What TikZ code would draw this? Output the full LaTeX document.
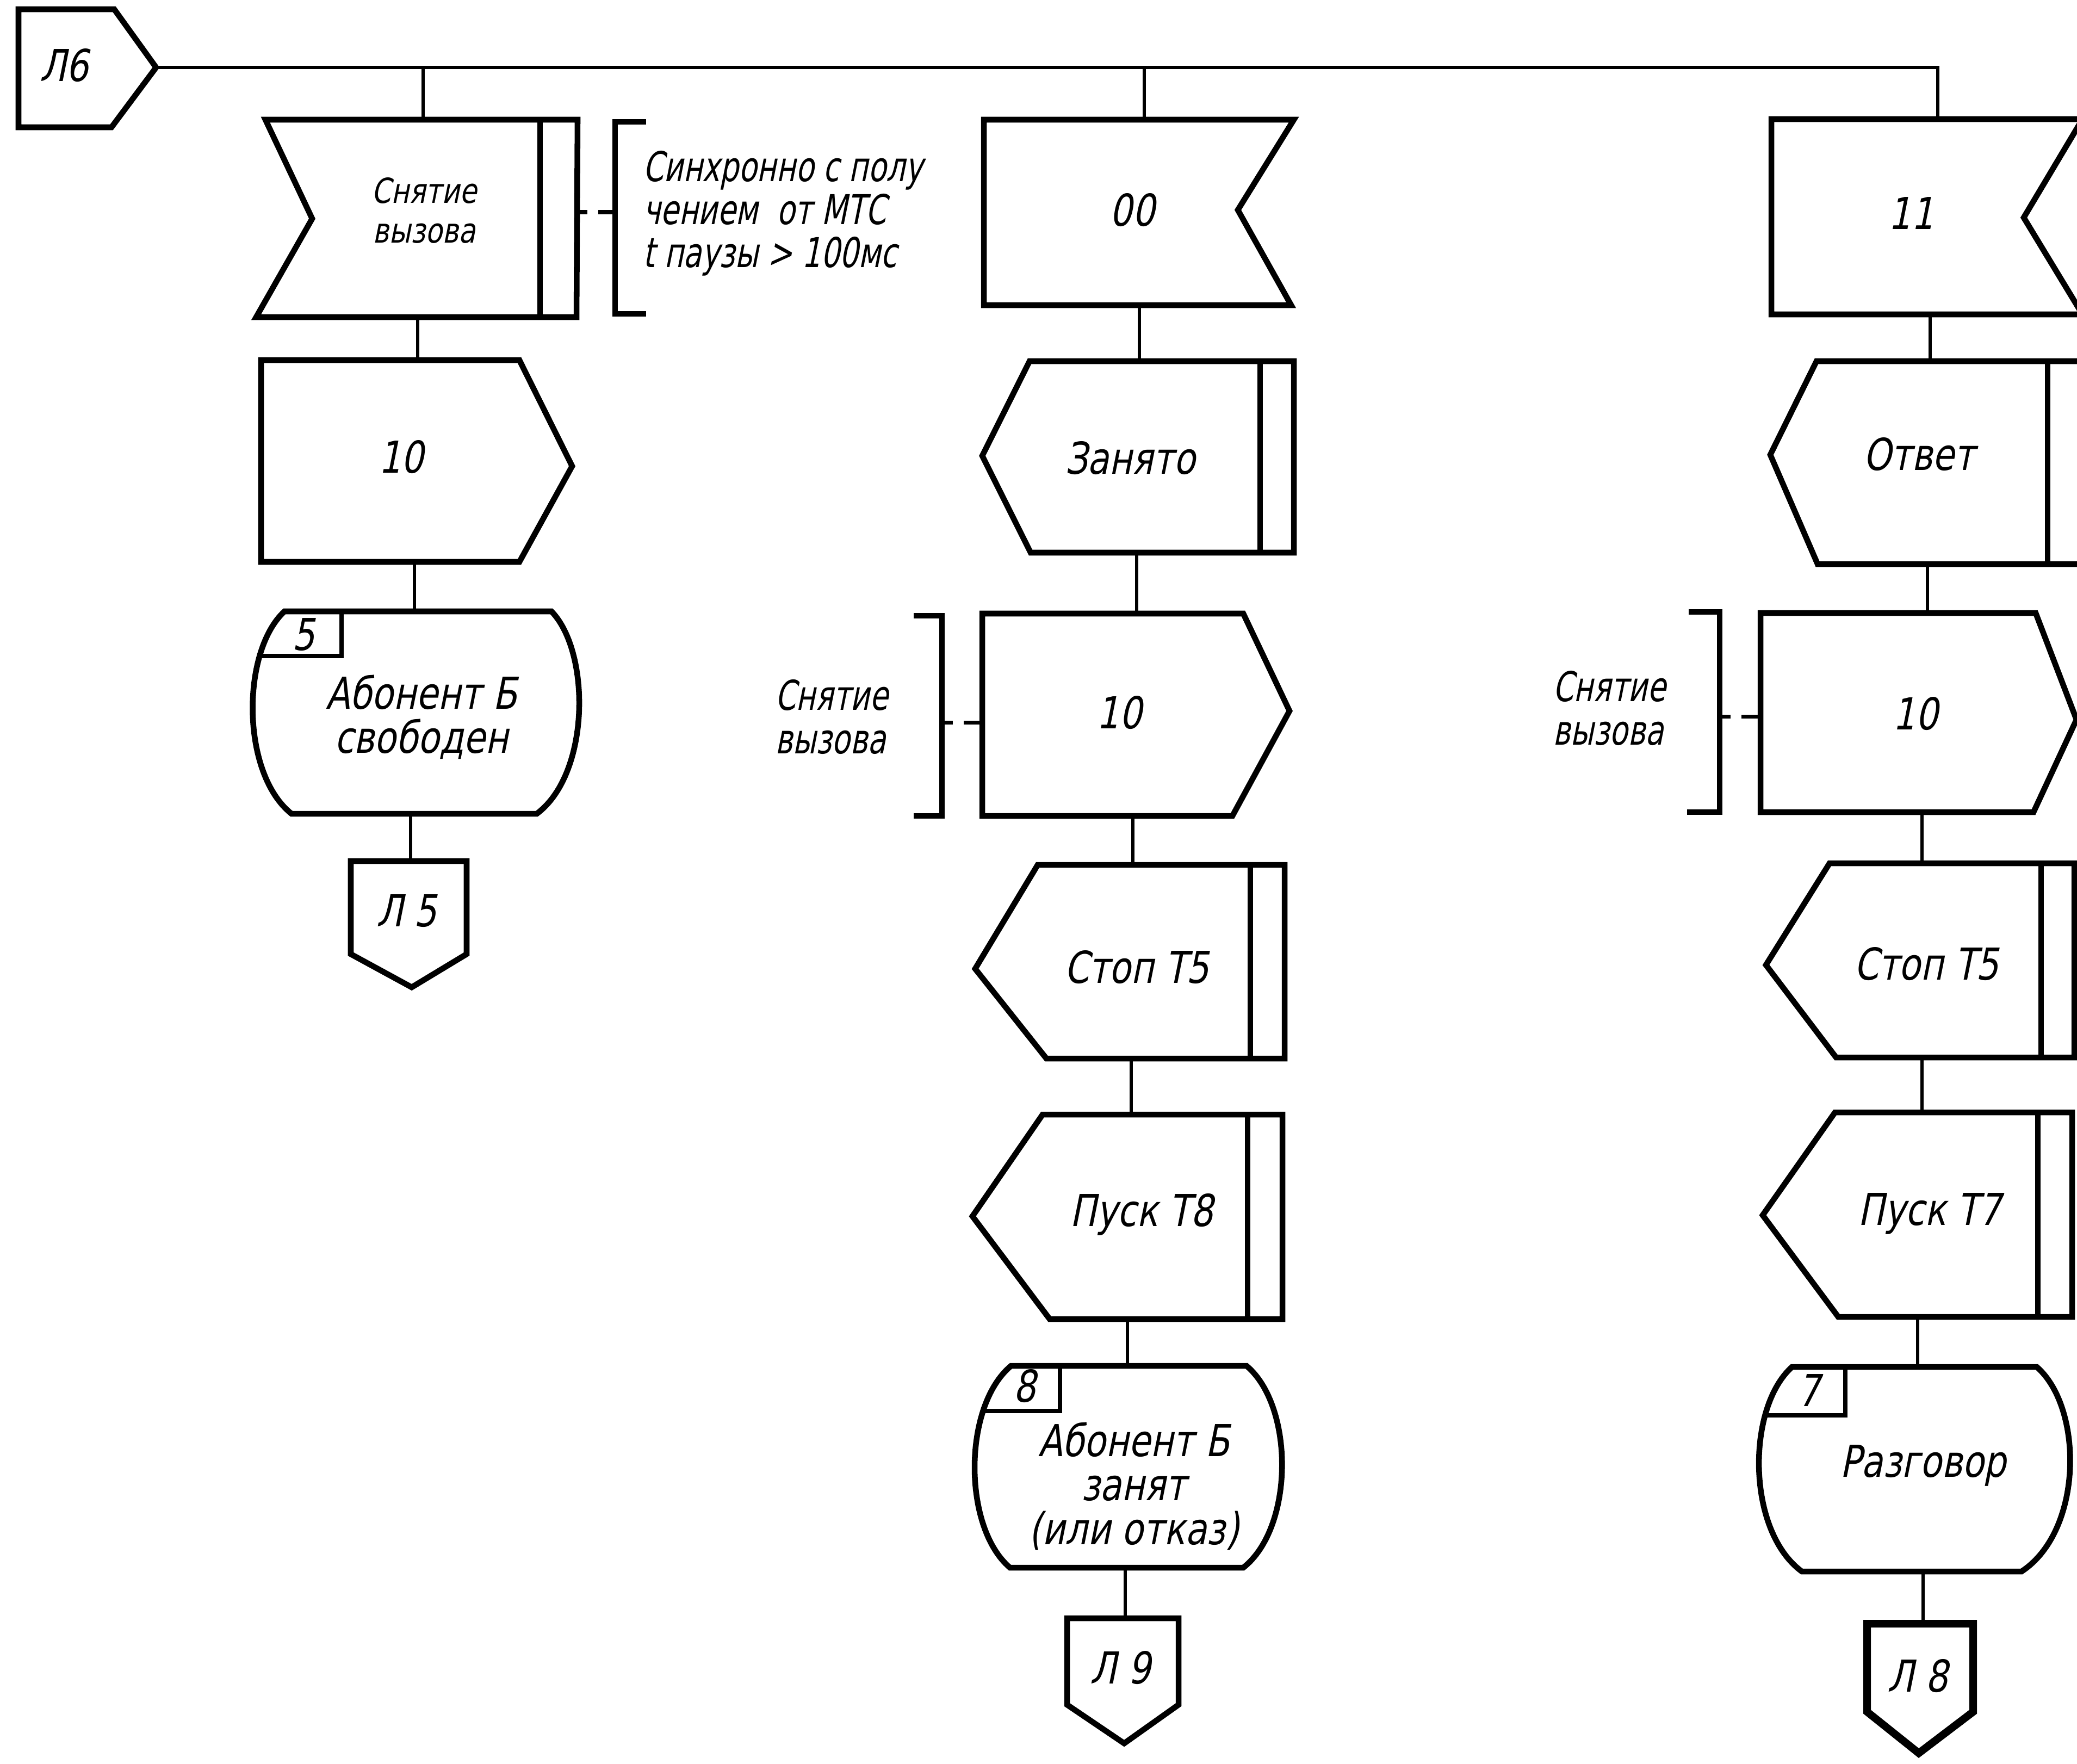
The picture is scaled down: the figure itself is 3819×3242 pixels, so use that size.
\documentclass[tikz,border=0pt]{standalone}
\usepackage{fontspec}
\newfontfamily\gost[FakeStretch=0.8,FakeSlant=0.2]{DejaVu Sans}
\newfontfamily\gostn[FakeStretch=0.72,FakeSlant=0.2]{DejaVu Sans}
\begin{document}
\begin{tikzpicture}[x=0.01cm,y=-0.01cm,
  shp/.style={line width=3pt,line join=miter},
  thk/.style={line width=4pt,line join=miter},
  con/.style={line width=1.8pt},
  brk/.style={line width=3pt},
  dsh/.style={line width=2pt,dash pattern=on 0.2cm off 0.2cm on 0.3cm off 0.2cm},
  lbl/.style={font=\gost\fontsize{23}{23}\selectfont,align=center,inner sep=0pt},
  smlbl/.style={font=\gost\fontsize{18}{21}\selectfont,align=center,inner sep=0pt},
  cmt/.style={font=\gostn\fontsize{21.5}{22.5}\selectfont,align=left,inner sep=0pt,anchor=west}]
\useasboundingbox (0,0) rectangle (3819,3242);

% ---------- L6 and main line ----------
\draw[shp] (34,17) -- (210,17) -- (287,124) -- (205,234) -- (34,234) -- cycle;
\node[lbl] (L6) at (118,120) {Л6};
\coordinate (L6p) at (287,124);
\coordinate (j1) at (778,124);
\coordinate (j2) at (2104,124);
\coordinate (j3) at (3563,124);

% ---------- column 1 ----------
\draw[shp] (488,220) -- (1062,220) -- (1060,583) -- (471,583) -- (574,402) -- cycle;
\draw[shp] (993,220) -- (993,583);
\node[smlbl] (a1) at (780,387) {Снятие\\вызова};
\coordinate (a1t) at (778,220);
\coordinate (a1b) at (768,583);
\coordinate (a1r) at (1060,390);

\draw[brk] (1188,224) -- (1131,224) -- (1131,577) -- (1188,577);
\coordinate (k1) at (1131,390);
\node[cmt] (ka) at (1182,392) {Синхронно с полу\\чением \ от МТС\\t паузы > 100мс};

\draw[shp] (480,662) -- (955,662) -- (1052,857) -- (955,1033) -- (480,1033) -- cycle;
\node[lbl] (a2) at (738,840) {10};
\coordinate (a2t) at (768,662);
\coordinate (a2b) at (762,1033);

\draw[shp] (523,1124) -- (1014,1124) .. controls (1086,1198) and (1086,1422) .. (987,1496)
  -- (536,1496) .. controls (443,1422) and (443,1198) .. (523,1124) -- cycle;
\begin{scope}
  \clip (523,1124) -- (1014,1124) .. controls (1086,1198) and (1086,1422) .. (987,1496)
  -- (536,1496) .. controls (443,1422) and (443,1198) .. (523,1124) -- cycle;
  \draw[line width=2.2pt] (400,1206) -- (628,1206) -- (628,1100);
\end{scope}
\node[lbl] (a3n) at (558,1167) {5};
\node[lbl] (a3) at (775,1318) {Абонент Б\\свободен};
\coordinate (a3t) at (762,1124);
\coordinate (a3b) at (755,1496);

\draw[shp] (645,1583) -- (858,1583) -- (858,1754) -- (757,1815) -- (645,1754) -- cycle;
\node[lbl] (L5) at (748,1675) {Л 5};
\coordinate (L5t) at (755,1583);

% ---------- column 2 ----------
\draw[shp] (1809,220) -- (2379,220) -- (2276,386) -- (2374,561) -- (1809,561) -- cycle;
\node[lbl] (b1) at (2082,386) {00};
\coordinate (b1t) at (2104,220);
\coordinate (b1b) at (2095,561);

\draw[shp] (1893,664) -- (2379,664) -- (2379,1016) -- (1895,1016) -- (1806,838) -- cycle;
\draw[shp] (2317,664) -- (2317,1016);
\node[lbl] (b2) at (2078,842) {Занято};
\coordinate (b2t) at (2095,664);
\coordinate (b2b) at (2090,1016);

\draw[shp] (1806,1128) -- (2286,1128) -- (2371,1307) -- (2266,1500) -- (1806,1500) -- cycle;
\node[lbl] (b3) at (2058,1310) {10};
\coordinate (b3t) at (2090,1128);
\coordinate (b3b) at (2083,1500);
\coordinate (b3l) at (1806,1328);

\draw[brk] (1680,1132) -- (1732,1132) -- (1732,1500) -- (1680,1500);
\coordinate (k2) at (1732,1328);
\node[cmt] (kb) at (1425,1318) {Снятие\\вызова};

\draw[shp] (1908,1590) -- (2362,1590) -- (2362,1946) -- (1924,1946) -- (1793,1781) -- cycle;
\draw[shp] (2299,1590) -- (2299,1946);
\node[lbl] (b4) at (2090,1778) {Стоп T5};
\coordinate (b4t) at (2083,1590);
\coordinate (b4b) at (2080,1946);

\draw[shp] (1917,2049) -- (2358,2049) -- (2358,2425) -- (1930,2425) -- (1788,2236) -- cycle;
\draw[shp] (2294,2049) -- (2294,2425);
\node[lbl] (b5) at (2099,2233) {Пуск T8};
\coordinate (b5t) at (2080,2049);
\coordinate (b5b) at (2073,2425);

\draw[shp] (1859,2511) -- (2292,2511) .. controls (2380,2585) and (2380,2808) .. (2286,2882)
  -- (1857,2882) .. controls (1770,2808) and (1770,2585) .. (1859,2511) -- cycle;
\begin{scope}
  \clip (1859,2511) -- (2292,2511) .. controls (2380,2585) and (2380,2808) .. (2286,2882)
  -- (1857,2882) .. controls (1770,2808) and (1770,2585) .. (1859,2511) -- cycle;
  \draw[line width=2.2pt] (1700,2594) -- (1949,2594) -- (1949,2480);
\end{scope}
\node[lbl] (b6n) at (1884,2548) {8};
\node[lbl] (b6) at (2085,2732) {Абонент Б\\занят\\(или отказ)};
\coordinate (b6t) at (2073,2511);
\coordinate (b6b) at (2069,2882);

\draw[shp] (1962,2975) -- (2167,2975) -- (2167,3134) -- (2067,3205) -- (1962,3134) -- cycle;
\node[lbl] (L9) at (2060,3066) {Л 9};
\coordinate (L9t) at (2069,2975);

% ---------- column 3 ----------
\draw[shp] (3257,219) -- (3829,219) -- (3721,400) -- (3829,578) -- (3257,578) -- cycle;
\node[lbl] (c1) at (3514,392) {11};
\coordinate (c1t) at (3563,219);
\coordinate (c1b) at (3549,578);

\draw[shp] (3340,664) -- (3828,664) -- (3828,1037) -- (3342,1037) -- (3255,836) -- cycle;
\draw[shp] (3765,664) -- (3765,1037);
\node[lbl] (c2) at (3529,835) {Ответ};
\coordinate (c2t) at (3549,664);
\coordinate (c2b) at (3544,1037);

\draw[shp] (3237,1127) -- (3743,1127) -- (3818,1323) -- (3739,1493) -- (3237,1493) -- cycle;
\node[lbl] (c3) at (3522,1312) {10};
\coordinate (c3t) at (3544,1127);
\coordinate (c3b) at (3534,1493);
\coordinate (c3l) at (3237,1317);

\draw[brk] (3105,1125) -- (3162,1125) -- (3162,1493) -- (3102,1493);
\coordinate (k3) at (3162,1317);
\node[cmt] (kc) at (2855,1302) {Снятие\\вызова};

\draw[shp] (3364,1587) -- (3814,1587) -- (3814,1944) -- (3376,1944) -- (3247,1774) -- cycle;
\draw[shp] (3753,1587) -- (3753,1944);
\node[lbl] (c4) at (3542,1772) {Стоп T5};
\coordinate (c4t) at (3534,1587);
\coordinate (c4b) at (3534,1944);

\draw[shp] (3374,2045) -- (3810,2045) -- (3810,2421) -- (3380,2421) -- (3241,2234) -- cycle;
\draw[shp] (3747,2045) -- (3747,2421);
\node[lbl] (c5) at (3548,2231) {Пуск T7};
\coordinate (c5t) at (3534,2045);
\coordinate (c5b) at (3526,2421);

\draw[shp] (3295,2513) -- (3745,2513) .. controls (3831,2588) and (3831,2814) .. (3717,2889)
  -- (3313,2889) .. controls (3211,2814) and (3211,2588) .. (3295,2513) -- cycle;
\begin{scope}
  \clip (3295,2513) -- (3745,2513) .. controls (3831,2588) and (3831,2814) .. (3717,2889)
  -- (3313,2889) .. controls (3211,2814) and (3211,2588) .. (3295,2513) -- cycle;
  \draw[line width=2.2pt] (3150,2602) -- (3393,2602) -- (3393,2480);
\end{scope}
\node[lbl] (c6n) at (3326,2556) {7};
\node[lbl] (c6) at (3536,2694) {Разговор};
\coordinate (c6t) at (3526,2513);
\coordinate (c6b) at (3536,2889);

\draw[thk] (3433,2985) -- (3628,2985) -- (3628,3147) -- (3528,3223) -- (3433,3147) -- cycle;
\node[lbl] (L8) at (3526,3081) {Л 8};
\coordinate (L8t) at (3536,2985);

% ---------- connectors ----------
\draw[con] (L6p) -- (j1) -- (j2) -- (j3) -- (c1t);
\draw[con] (j1) -- (a1t);
\draw[con] (j2) -- (b1t);
\draw[con] (a1b) -- (a2t);
\draw[con] (a2b) -- (a3t);
\draw[con] (a3b) -- (L5t);
\draw[con] (b1b) -- (b2t);
\draw[con] (b2b) -- (b3t);
\draw[con] (b3b) -- (b4t);
\draw[con] (b4b) -- (b5t);
\draw[con] (b5b) -- (b6t);
\draw[con] (b6b) -- (L9t);
\draw[con] (c1b) -- (c2t);
\draw[con] (c2b) -- (c3t);
\draw[con] (c3b) -- (c4t);
\draw[con] (c4b) -- (c5t);
\draw[con] (c5b) -- (c6t);
\draw[con] (c6b) -- (L8t);
\draw[dsh] (a1r) -- (k1);
\draw[dsh] (k2) -- (b3l);
\draw[dsh] (k3) -- (c3l);
\end{tikzpicture}
\end{document}
